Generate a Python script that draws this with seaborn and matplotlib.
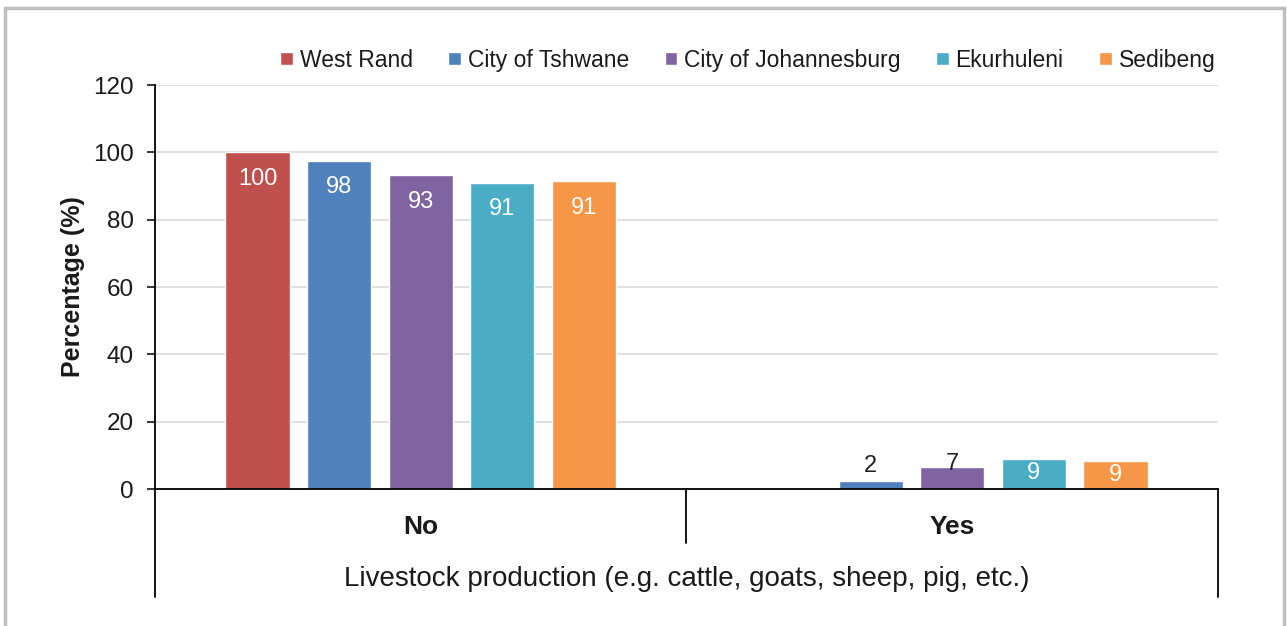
# grouped bar chart: livestock production by district
import matplotlib
matplotlib.use("Agg")
import matplotlib.pyplot as plt
import seaborn as sns
import pandas as pd
from matplotlib.patches import Rectangle

# data
categories = ["No", "Yes"]
districts = ["West Rand", "City of Tshwane", "City of Johannesburg", "Ekurhuleni", "Sedibeng"]
no_values = [100, 97.5, 93.2, 90.9, 91.4]
yes_values = [0, 2.3, 6.5, 8.9, 8.4]
no_labels = ["100", "98", "93", "91", "91"]
yes_labels = ["", "2", "7", "9", "9"]
colors = ["#C0504D", "#4F81BD", "#8064A2", "#4BACC6", "#F79646"]

df = pd.DataFrame({
    "answer": ["No"] * 5 + ["Yes"] * 5,
    "district": districts * 2,
    "value": no_values + yes_values,
})

sns.set_style("white")
plt.rcParams["font.family"] = ["Liberation Sans", "DejaVu Sans"]

fig = plt.figure(figsize=(12.87, 6.26), dpi=100)
ax = fig.add_axes([0.1204, 0.2188, 0.826, 0.6454])

sns.barplot(data=df, x="answer", y="value", hue="district", order=categories,
            hue_order=districts, palette=colors, width=0.767, gap=0.21,
            saturation=1, ax=ax, legend=True)

# axes styling
ax.set_xlim(-0.5, 1.5)
ax.set_ylim(0, 120)
ax.set_yticks(range(0, 121, 20))
ax.yaxis.grid(True, color="#d9d9d9", linewidth=1.2)
ax.set_axisbelow(True)
for s in ["top", "right"]:
    ax.spines[s].set_visible(False)
ax.spines["left"].set_color("black")
ax.spines["bottom"].set_color("black")
ax.spines["left"].set_linewidth(1.3)
ax.spines["bottom"].set_linewidth(1.3)
ax.tick_params(axis="y", length=6, width=1.3, direction="out", labelsize=17.5, pad=9,
               left=True, labelcolor="#1a1a1a")
ax.tick_params(axis="x", length=0, labelsize=19, pad=19, labelcolor="#1a1a1a")
for t in ax.get_xticklabels():
    t.set_fontweight("bold")
ax.set_ylabel("Percentage (%)", fontsize=18, fontweight="bold", labelpad=6, color="#1a1a1a")
ax.set_xlabel("Livestock production (e.g. cattle, goats, sheep, pig, etc.)", fontsize=20,
              labelpad=19, color="#1a1a1a")

# multi-level axis separators
for x, y0 in [(0, -0.267), (0.5, -0.134), (1, -0.267)]:
    ax.plot([x, x], [0, y0], transform=ax.transAxes, color="black", lw=1.3, clip_on=False)

# data labels
label_sets = list(zip(no_labels, yes_labels))
for i, cont in enumerate(ax.containers):
    for j, bar in enumerate(cont):
        txt = label_sets[i][j]
        if not txt:
            continue
        h = bar.get_height()
        xc = bar.get_x() + bar.get_width() / 2
        if h > 20:
            off, col = -19, "white"
        elif h > 8:
            off, col = -10, "white"
        elif h > 5:
            off, col = 2, "#222222"
        else:
            off, col = 11, "#222222"
        ax.annotate(txt, (xc, h), xytext=(0, off), textcoords="offset points",
                    ha="center", va="center", color=col, fontsize=17)

# legend
handles, labels = ax.get_legend_handles_labels()
ax.legend_.remove()
fig.legend(handles, labels, loc="center", bbox_to_anchor=(0.581, 0.904), ncol=5,
           frameon=False, fontsize=16.5, handlelength=0.55, handleheight=0.55,
           handletextpad=0.3, columnspacing=1.55, labelcolor="#1a1a1a")

# outer border
fig.patches.append(Rectangle((0.004, -0.01), 0.994, 0.997, transform=fig.transFigure,
                             fill=False, edgecolor="#bfbfbf", linewidth=2.5))

plt.savefig("out.png", dpi=100)
